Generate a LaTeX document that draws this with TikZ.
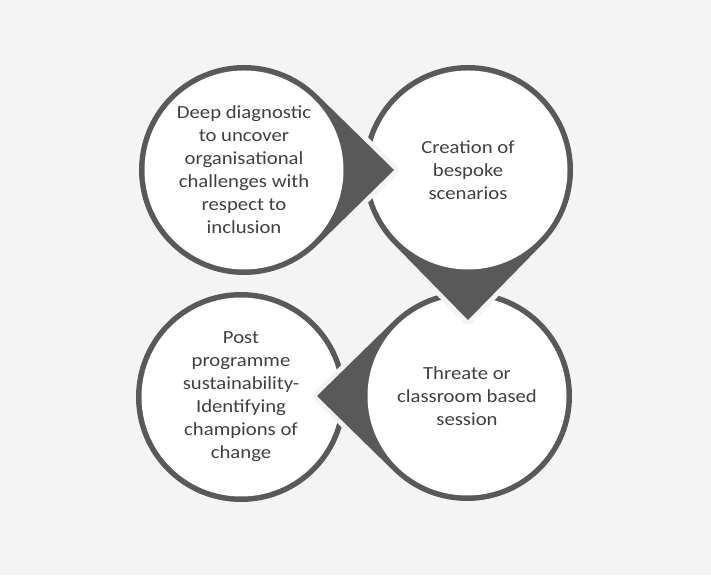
\documentclass[tikz,border=0pt]{standalone}
\usepackage{fontspec}
\setmainfont{Carlito}[FakeStretch=1.12]
\usetikzlibrary{calc}

\definecolor{bggrey}{HTML}{F4F4F4}
\definecolor{ringgrey}{HTML}{595959}
\definecolor{textgrey}{HTML}{404040}

\tikzset{
  stage/.style={align=center, text=textgrey, font=\fontsize{18.5}{23}\selectfont},
  drop/.style={fill=ringgrey, preaction={draw=bggrey, line width=10pt, line join=round}},
  face/.style={fill=white}
}

% ring with a pointer: centre, direction of the tip
\newcommand{\teardrop}[2]{%
  \path[drop] ($(#1)+(#2:150)$) -- ($(#1)+(#2+45.57:105)$)
    arc[start angle=#2+45.57, end angle=#2+314.43, radius=105] -- cycle;
  \fill[face] (#1) circle[radius=99.5];
}

\begin{document}
\begin{tikzpicture}[x=1pt,y=1pt]

%draw background
\fill[bggrey] (0,0) rectangle (711,575);
\useasboundingbox (0,0) rectangle (711,575);

\coordinate (c1) at (244,405);
\coordinate (c2) at (468,405);
\coordinate (c3) at (467,179);
\coordinate (c4) at (241,178);

%draw last ring
\fill[ringgrey] (c4) circle[radius=105];
\fill[face] (c4) circle[radius=99.5];
\node[stage] (post) at (c4) {Post\\programme\\sustainability-\\Identifying\\champions of\\change};

%draw rings with pointers
\teardrop{c3}{180}
\node[stage] (threate) at (c3) {Threate or\\classroom based\\session};

\teardrop{c2}{-90}
\node[stage] (creation) at (c2) {Creation of\\bespoke\\scenarios};

\teardrop{c1}{0}
\node[stage] (diag) at (c1) {Deep diagnostic\\to uncover\\organisational\\challenges with\\respect to\\inclusion};

\end{tikzpicture}
\end{document}
